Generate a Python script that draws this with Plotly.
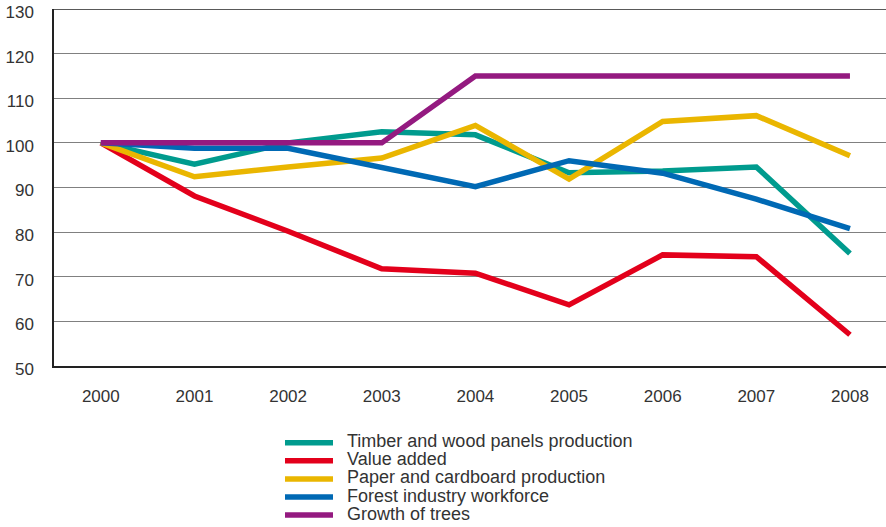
import plotly.graph_objects as go

years = [2000, 2001, 2002, 2003, 2004, 2005, 2006, 2007, 2008]
timber = [100, 95.2, 100, 102.5, 101.8, 93.3, 93.7, 94.6, 75.2]
value_added = [100, 88.1, 80.2, 71.8, 70.8, 63.7, 74.9, 74.5, 57.0]
paper = [100, 92.4, 94.6, 96.6, 103.9, 91.9, 104.8, 106.1, 97.1]
workforce = [100, 98.8, 98.8, 94.5, 90.2, 96.0, 93.2, 87.4, 80.8]
growth = [100, 100, 100, 100, 115, 115, 115, 115, 115]

series = [
    ("Timber and wood panels production", timber, "#009B8E"),
    ("Value added", value_added, "#E3001B"),
    ("Paper and cardboard production", paper, "#EAB600"),
    ("Forest industry workforce", workforce, "#0069B4"),
    ("Growth of trees", growth, "#941A80"),
]

W, H = 886, 527
ML, MR, MT, MB = 54, 0, 9, 161
PW, PH = W - ML - MR, H - MT - MB

def px_x(px):
    return (px - ML) / PW

def px_y(py):
    return (H - MB - py) / PH

fig = go.Figure()
for name, vals, col in series:
    fig.add_trace(go.Scatter(x=years, y=vals, name=name, mode="lines",
                             line=dict(color=col, width=5.5)))

font = "Liberation Sans, Arial, sans-serif"
fig.update_layout(
    width=W, height=H,
    margin=dict(l=ML, r=MR, t=MT, b=MB, autoexpand=False),
    paper_bgcolor="white", plot_bgcolor="white",
    font=dict(family=font, size=17, color="#333333"),
    showlegend=False,
    xaxis=dict(range=[1999.5, 2008.385], tickmode="array", tickvals=years,
               ticktext=[str(y) for y in years], showgrid=False,
               showline=True, linecolor="#222222", linewidth=1.5,
               ticks="", ticklabelstandoff=14, zeroline=False),
    yaxis=dict(range=[50, 130], tickvals=list(range(50, 131, 10)),
               showgrid=True, gridcolor="#808080", gridwidth=1.3,
               showline=True, linecolor="#222222", linewidth=1.5,
               ticks="", ticklabelstandoff=15, zeroline=False,
               ticklabeloverflow="allow", ticklabelshift=3),
)
fig.add_shape(type="line", xref="paper", yref="y", x0=0, x1=1, y0=130, y1=130,
              line=dict(color="#222222", width=1.5), layer="below")

# manual legend
leg_x0, leg_x1, leg_text = 285, 333, 345
leg_y0, leg_dy = 442.7, 18.1
for i, (name, vals, col) in enumerate(series):
    yy = px_y(leg_y0 + i * leg_dy)
    fig.add_shape(type="line", xref="paper", yref="paper",
                  x0=px_x(leg_x0), x1=px_x(leg_x1), y0=yy, y1=yy,
                  line=dict(color=col, width=5.5))
    fig.add_annotation(xref="paper", yref="paper", x=px_x(leg_text), y=yy + 1.5 / PH,
                       text=name, showarrow=False, xanchor="left", yanchor="middle",
                       font=dict(size=18, color="#333333", family=font))
fig.write_html("out.html")
